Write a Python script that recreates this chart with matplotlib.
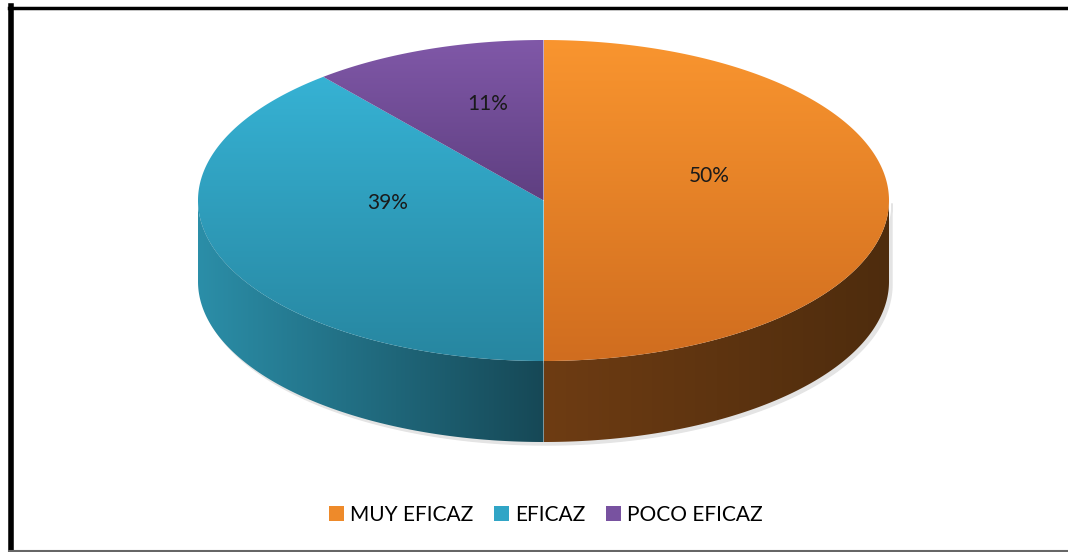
import numpy as np
import matplotlib.pyplot as plt
from matplotlib.patches import Polygon, Patch
from matplotlib.lines import Line2D
from matplotlib.colors import LinearSegmentedColormap

plt.rcParams["font.family"] = ["Lato", "DejaVu Sans"]

categories = ["MUY EFICAZ", "EFICAZ", "POCO EFICAZ"]
values = [50, 39, 11]
labels = ["50%", "39%", "11%"]

# light / dark shades for top and side of each slice
top_colors = [("#F9952F", "#D06D1F"), ("#36B2D4", "#2786A0"), ("#8058A8", "#5F3F81")]
side_colors = [("#6E3C13", "#4E2C0D"), ("#2B8EA8", "#164856"), ("#5F3F81", "#4A3066")]
legend_colors = ["#EE8A2A", "#31A5C6", "#7852A0"]

W, H = 1068, 552
fig = plt.figure(figsize=(W / 100, H / 100), dpi=100)
ax = fig.add_axes([0, 0, 1, 1])
ax.set_xlim(0, W)
ax.set_ylim(H, 0)
ax.axis("off")

cx, cy, a, b, depth = 543.5, 200.5, 345.5, 160.5, 81


def pt(theta, dy=0):
    t = np.radians(theta)
    return cx + a * np.cos(t), cy - b * np.sin(t) + dy


def gradient_fill(verts, c1, c2, horizontal=False, z=1):
    poly = Polygon(verts, closed=True, facecolor="none", edgecolor="none", zorder=z)
    ax.add_patch(poly)
    xs, ys = verts[:, 0], verts[:, 1]
    cmap = LinearSegmentedColormap.from_list("g", [c1, c2])
    grad = np.linspace(0, 1, 256)
    img = grad[None, :] if horizontal else grad[:, None]
    im = ax.imshow(img, cmap=cmap, extent=(xs.min(), xs.max(), ys.max(), ys.min()),
                   aspect="auto", zorder=z, interpolation="bilinear")
    im.set_clip_path(poly)


# slice angle ranges, starting at 12 o'clock going clockwise
fracs = np.array(values) / sum(values)
starts = 90 - 360 * np.concatenate([[0], np.cumsum(fracs)[:-1]])
ends = starts - 360 * fracs

# soft shadow
sh = np.array([pt(t, depth + 3) for t in np.linspace(180, 360, 200)])
sh[:, 0] += 3
ax.fill(np.r_[sh[:, 0], sh[::-1, 0]], np.r_[sh[:, 1], sh[::-1, 1] - depth], color="#e4e4e4", zorder=0.5)

# side walls (front half only)
for i in range(len(values)):
    hi, lo = starts[i], ends[i]
    seg_lo, seg_hi = max(lo, -180), min(hi, 0)
    if seg_lo >= seg_hi:
        continue
    th = np.linspace(seg_lo, seg_hi, 200)
    top = np.array([pt(t) for t in th])
    bot = np.array([pt(t, depth) for t in th[::-1]])
    gradient_fill(np.vstack([top, bot]), side_colors[i][0], side_colors[i][1], horizontal=True, z=1)

# top faces
for i in range(len(values)):
    th = np.linspace(starts[i], ends[i], 300)
    arc = np.array([pt(t) for t in th])
    verts = np.vstack([[cx, cy], arc])
    gradient_fill(verts, top_colors[i][0], top_colors[i][1], z=2)
    mid = np.radians((starts[i] + ends[i]) / 2)
    lx = cx + 0.48 * a * np.cos(mid)
    ly = cy - 0.48 * b * np.sin(mid) - 24
    ax.text(lx, ly, labels[i], ha="center", va="center", fontsize=15, color="#1a1a1a", zorder=5)

handles = [Patch(facecolor=c, edgecolor="none") for c in legend_colors]
ax.legend(handles, categories, loc="center", bbox_to_anchor=(546 / W, 1 - 515 / H),
          bbox_transform=fig.transFigure, ncol=3, frameon=False, fontsize=15,
          handlelength=0.7, handleheight=0.7, handletextpad=0.3, columnspacing=1.0)

# frame
ax.add_line(Line2D([10.5, 10.5], [6, 552], color="black", lw=4, zorder=6))
ax.add_line(Line2D([9, W], [7.5, 7.5], color="black", lw=2.5, zorder=6))
ax.add_line(Line2D([9, W], [550.5, 550.5], color="#666666", lw=1.5, zorder=6))

fig.savefig("out.png", dpi=100)
